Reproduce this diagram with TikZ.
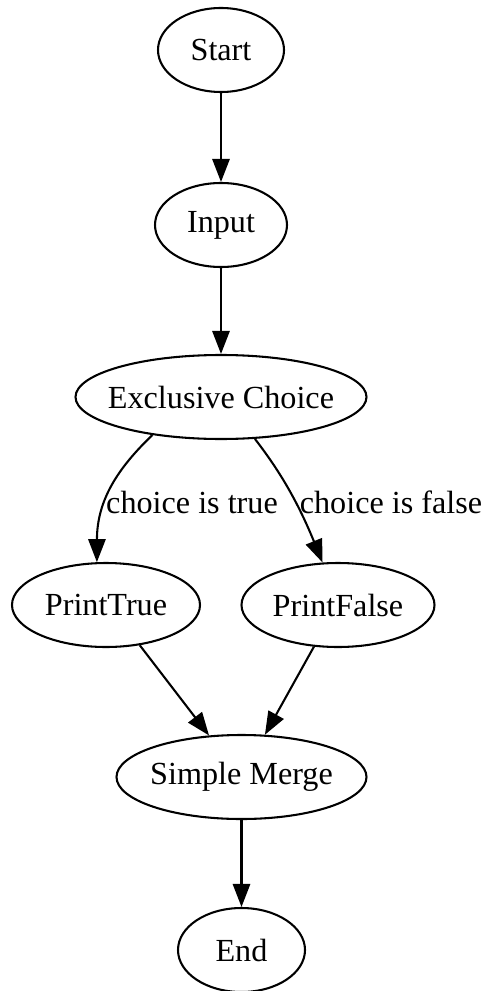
\documentclass[tikz,border=0pt]{standalone}
\usepackage{fontspec}
\setmainfont{Liberation Serif}
\usetikzlibrary{shapes.geometric,arrows.meta}
\newcommand{\gvlabel}[1]{\makebox[0pt]{#1}}
\tikzset{
    state/.style={ellipse, draw, line width=0.9pt, inner sep=0pt, minimum height=84*0.435pt, font=\fontsize{14pt}{16pt}\selectfont},
    flow/.style={-{Triangle[length=10pt,width=7.5pt]}, line width=0.9pt},
    guard/.style={inner sep=0pt, font=\fontsize{14pt}{16pt}\selectfont}
}
\begin{document}
\begin{tikzpicture}[x=0.435pt, y=-0.435pt]
        \useasboundingbox (0,0) rectangle (485,991);
        \node[state, minimum width=126*0.435pt] (start) at (221,50) {\gvlabel{Start}};
        \node[state, minimum width=132*0.435pt] (input) at (221,225) {\gvlabel{Input}};
        \node[state, minimum width=291*0.435pt] (choice) at (221,397) {\gvlabel{Exclusive Choice}};
        \node[state, minimum width=188*0.435pt] (ptrue) at (106,605) {\gvlabel{PrintTrue}};
        \node[state, minimum width=193*0.435pt] (pfalse) at (338,605) {\gvlabel{PrintFalse}};
        \node[state, minimum width=250*0.435pt] (merge) at (241.5,777) {\gvlabel{Simple Merge}};
        \node[state, minimum width=127*0.435pt] (end) at (241.5,950) {\gvlabel{End}};
        \node[guard] (gtrue) at (192,502) {choice is true};
        \node[guard] (gfalse) at (391,502) {choice is false};
        \draw[flow] (start) -- (input);
        \draw[flow] (input) -- (choice);
        \draw[flow] (choice.-151) .. controls (118,468) and (97,500) .. (ptrue.102);
        \draw[flow] (choice.-51) .. controls (275,465) and (295,495) .. (pfalse.110);
        \draw[flow] (ptrue.-50) -- (merge.128);
        \draw[flow] (pfalse.-120) -- (merge.61);
        \draw[flow] (merge) -- (end);
\end{tikzpicture}
\end{document}
